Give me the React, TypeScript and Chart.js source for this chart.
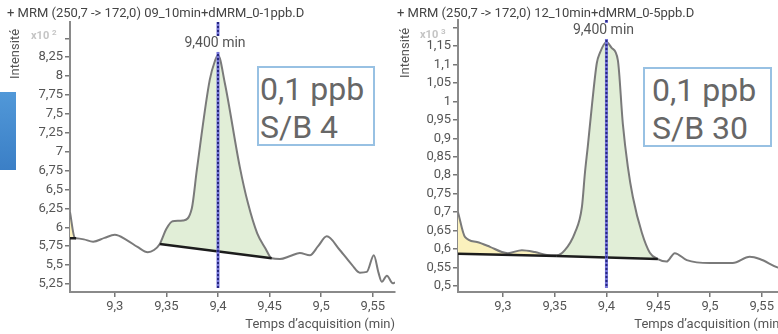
import React, { useEffect, useRef } from "react";
import { Chart, registerables } from "chart.js";
Chart.register(...registerables);

// ---------- Left panel (0,1 ppb, S/B 4) ----------
const leftTime = [
  9.2566, 9.2612, 9.2625, 9.27, 9.279, 9.29, 9.3, 9.3116, 9.322, 9.332, 9.338, 9.3436,
  9.35, 9.356, 9.366, 9.3746, 9.3795, 9.392, 9.397, 9.4, 9.4066, 9.4211, 9.429, 9.438,
  9.446, 9.452, 9.46, 9.47, 9.4793, 9.489, 9.497, 9.5054, 9.518, 9.53, 9.5374, 9.5442,
  9.551, 9.5555, 9.5587, 9.5636, 9.5694, 9.5715,
];
const leftSignal = [
  6.2, 5.86, 5.855, 5.84, 5.81, 5.86, 5.9, 5.83, 5.74, 5.67, 5.7, 5.78,
  5.98, 6.08, 6.09, 6.25, 6.76, 7.95, 8.2, 8.28, 7.91, 6.8, 6.32, 5.92,
  5.72, 5.59, 5.58, 5.62, 5.66, 5.63, 5.75, 5.88, 5.7, 5.5, 5.4, 5.41,
  5.63, 5.4, 5.28, 5.36, 5.26, 5.27,
];
const leftLeadBaseTime = [9.2566, 9.2625];
const leftLeadBaseValue = [5.855, 5.855];
const leftPeakBaseTime = [9.3436, 9.452];
const leftPeakBaseValue = [5.78, 5.59];
const leftYTicks = [5.25, 5.5, 5.75, 6, 6.25, 6.5, 6.75, 7, 7.25, 7.5, 7.75, 8, 8.25, 8.5];
const leftYLabels = ["5,25", "5,5", "5,75", "6", "6,25", "6,5", "6,75", "7", "7,25", "7,5", "7,75", "8", "8,25", ""];

// ---------- Right panel (0,1 ppb, S/B 30) ----------
const rightTime = [
  9.2566, 9.2633, 9.2749, 9.2875, 9.299, 9.3048, 9.3183, 9.3309, 9.3425, 9.3521, 9.3598,
  9.3695, 9.3763, 9.3792, 9.382, 9.386, 9.3907, 9.3936, 9.4, 9.405, 9.411, 9.4158, 9.4207,
  9.4255, 9.4342, 9.4419, 9.4496, 9.458, 9.466, 9.4776, 9.4998, 9.522, 9.5384, 9.5481,
  9.5645, 9.5715,
];
const rightSignal = [
  0.7, 0.633, 0.619, 0.606, 0.592, 0.589, 0.597, 0.592, 0.584, 0.583, 0.597,
  0.644, 0.714, 0.806, 0.879, 0.99, 1.104, 1.131, 1.161, 1.145, 1.112, 0.94, 0.822,
  0.741, 0.644, 0.59, 0.573, 0.566, 0.589, 0.57, 0.562, 0.562, 0.579, 0.573,
  0.551, 0.545,
];
const rightLeadBaseTime = [9.2566, 9.3521];
const rightLeadBaseValue = [0.587, 0.581];
const rightPeakBaseTime = [9.3521, 9.4496];
const rightPeakBaseValue = [0.581, 0.573];
const rightYTicks = [0.5, 0.55, 0.6, 0.65, 0.7, 0.75, 0.8, 0.85, 0.9, 0.95, 1, 1.05, 1.1, 1.15, 1.2];
const rightYLabels = ["0,5", "0,55", "0,6", "0,65", "0,7", "0,75", "0,8", "0,85", "0,9", "0,95", "1", "1,05", "1,1", "1,15", ""];

// ---------- Shared ----------
const xTicks = [9.3, 9.35, 9.4, 9.45, 9.5, 9.55];
const xLabels = ["9,3", "9,35", "9,4", "9,45", "9,5", "9,55"];
const retentionTime = 9.4;
const retentionLabel = "9,400 min";
const xTitle = "Temps d’acquisition (min)";

const GREEN = "#e1eed7";
const YELLOW = "#fbf1bd";
const FONT = "Roboto";

const markerPlugin = {
  id: "marker",
  afterDatasetsDraw(chart: any, _args: any, opts: any) {
    const { ctx, chartArea, scales } = chart;
    const x = scales.x.getPixelForValue(opts.time);
    ctx.save();
    ctx.beginPath();
    ctx.moveTo(x, chartArea.top);
    ctx.lineTo(x, chartArea.bottom - 4);
    ctx.strokeStyle = "#7474d8";
    ctx.lineWidth = 3;
    ctx.stroke();
    ctx.setLineDash([2, 2]);
    ctx.strokeStyle = "#262680";
    ctx.lineWidth = 2;
    ctx.stroke();
    ctx.setLineDash([]);
    const py = scales.y.getPixelForValue(opts.peak) - 11;
    ctx.font = `14px ${FONT}`;
    const w = ctx.measureText(opts.label).width;
    const cx = x - 3;
    ctx.fillStyle = "#ffffff";
    ctx.fillRect(cx - w / 2 - 2, py - 8, w + 4, 16);
    ctx.fillStyle = "#555555";
    ctx.textAlign = "center";
    ctx.textBaseline = "middle";
    ctx.fillText(opts.label, cx, py);
    ctx.restore();
  },
};

type Region = { baseT: number[]; baseV: number[]; color: string };
type Panel = {
  time: number[];
  signal: number[];
  regions: Region[];
  yMin: number;
  yMax: number;
  yTicks: number[];
  yLabels: string[];
  xMin: number;
  xMax: number;
  axisWidth: number;
  padTop: number;
  padRight: number;
};

function makeChart(canvas: HTMLCanvasElement, p: Panel) {
  const pts = p.time.map((t, i) => ({ x: t, y: p.signal[i] }));
  const seg = (a: number, b: number) => pts.filter((q) => q.x >= a - 1e-9 && q.x <= b + 1e-9);
  const datasets: any[] = [
    {
      data: pts,
      borderColor: "#7a7a7a",
      borderWidth: 2,
      pointRadius: 0,
      fill: false,
      order: 1,
      cubicInterpolationMode: "monotone",
    },
  ];
  p.regions.forEach((r) => {
    const baseIndex = datasets.length + 1;
    datasets.push({
      data: seg(r.baseT[0], r.baseT[1]),
      borderColor: "rgba(0,0,0,0)",
      borderWidth: 0,
      pointRadius: 0,
      backgroundColor: r.color,
      fill: { target: baseIndex },
      order: 5,
      cubicInterpolationMode: "monotone",
    });
    datasets.push({
      data: r.baseT.map((t, i) => ({ x: t, y: r.baseV[i] })),
      borderColor: "#1c1c1c",
      borderWidth: 2.5,
      pointRadius: 0,
      fill: false,
      order: 0,
    });
  });
  const peak = Math.max(...p.signal);
  const tickFont = { family: FONT, size: 13 };
  return new Chart(canvas, {
    type: "line",
    data: { datasets },
    plugins: [markerPlugin as any],
    options: {
      animation: false,
      responsive: false,
      maintainAspectRatio: false,
      layout: { padding: { left: 0, top: p.padTop, right: p.padRight, bottom: 0 } },
      plugins: {
        legend: { display: false },
        tooltip: { enabled: false },
        marker: { time: retentionTime, peak, label: retentionLabel },
      } as any,
      scales: {
        x: {
          type: "linear",
          min: p.xMin,
          max: p.xMax,
          afterFit: (s: any) => {
            s.height = 42;
          },
          afterBuildTicks: (s: any) => {
            s.ticks = xTicks.map((v) => ({ value: v }));
          },
          ticks: {
            callback: (_v: any, i: number) => xLabels[i],
            font: tickFont,
            color: "#555",
            padding: 2,
            maxRotation: 0,
            autoSkip: false,
          },
          grid: { drawOnChartArea: false, drawTicks: true, tickLength: 5, color: "#777", lineWidth: 1.5 },
          border: { display: true, color: "#8a8a8a", width: 2 },
          title: {
            display: true,
            text: xTitle,
            align: "end",
            font: { family: FONT, size: 13 },
            color: "#555",
            padding: { top: 0, bottom: 1 },
          },
        },
        y: {
          type: "linear",
          min: p.yMin,
          max: p.yMax,
          afterFit: (s: any) => {
            s.width = p.axisWidth;
          },
          afterBuildTicks: (s: any) => {
            s.ticks = p.yTicks.map((v) => ({ value: v }));
          },
          ticks: {
            callback: (_v: any, i: number) => p.yLabels[i],
            font: tickFont,
            color: "#555",
            padding: 2,
            autoSkip: false,
          },
          grid: { drawOnChartArea: false, drawTicks: true, tickLength: 5, color: "#777", lineWidth: 1.5 },
          border: { display: true, color: "#8a8a8a", width: 2 },
        },
      } as any,
    },
  });
}

const leftPanel: Panel = {
  time: leftTime,
  signal: leftSignal,
  regions: [
    { baseT: leftLeadBaseTime, baseV: leftLeadBaseValue, color: YELLOW },
    { baseT: leftPeakBaseTime, baseV: leftPeakBaseValue, color: GREEN },
  ],
  yMin: 5.144,
  yMax: 8.716,
  yTicks: leftYTicks,
  yLabels: leftYLabels,
  xMin: 9.2566,
  xMax: 9.5715,
  axisWidth: 70,
  padTop: 22,
  padRight: 5,
};

const rightPanel: Panel = {
  time: rightTime,
  signal: rightSignal,
  regions: [
    { baseT: rightLeadBaseTime, baseV: rightLeadBaseValue, color: YELLOW },
    { baseT: rightPeakBaseTime, baseV: rightPeakBaseValue, color: GREEN },
  ],
  yMin: 0.4837,
  yMax: 1.2205,
  yTicks: rightYTicks,
  yLabels: rightYLabels,
  xMin: 9.2566,
  xMax: 9.5715,
  axisWidth: 68,
  padTop: 20,
  padRight: 6,
};

const abs = (s: React.CSSProperties): React.CSSProperties => ({ position: "absolute", ...s });

function Multiplier({ left, top, exp }: { left: number; top: number; exp: string }) {
  return (
    <div style={abs({ left, top, fontSize: 11, fontWeight: 700, color: "#c4c4c4", lineHeight: "14px", whiteSpace: "nowrap" })}>
      x10 <sup style={{ fontSize: 8, verticalAlign: "4px" }}>{exp}</sup>
    </div>
  );
}

function YTitle({ cx, cy }: { cx: number; cy: number }) {
  return (
    <div
      style={abs({
        left: cx - 40,
        top: cy - 8,
        width: 80,
        height: 16,
        lineHeight: "16px",
        fontSize: 13,
        color: "#555",
        textAlign: "center",
        transform: "rotate(-90deg)",
        whiteSpace: "nowrap",
      })}
    >
      Intensité
    </div>
  );
}

function InfoBox({ left, top, width, padLeft, lines }: { left: number; top: number; width: number; padLeft: number; lines: string[] }) {
  return (
    <div
      style={abs({
        left,
        top,
        width,
        height: 80,
        boxSizing: "border-box",
        border: "2px solid #98c1e3",
        background: "#fff",
        paddingTop: 2,
        paddingLeft: padLeft,
        fontSize: 32,
        lineHeight: "38px",
        color: "#676767",
        whiteSpace: "nowrap",
      })}
    >
      {lines.map((l, i) => (
        <div key={i}>{l}</div>
      ))}
    </div>
  );
}

export default function App() {
  const leftRef = useRef<HTMLCanvasElement>(null);
  const rightRef = useRef<HTMLCanvasElement>(null);
  useEffect(() => {
    const a = makeChart(leftRef.current!, leftPanel);
    const b = makeChart(rightRef.current!, rightPanel);
    return () => {
      a.destroy();
      b.destroy();
    };
  }, []);
  return (
    <div
      style={abs({
        left: 0,
        top: 0,
        width: 778,
        height: 334,
        overflow: "hidden",
        background: "#fff",
        fontFamily: FONT,
      })}
    >
      <div style={abs({ left: 0, top: 92, width: 16, height: 78, background: "linear-gradient(#5198d8, #3b7fc6)" })} />
      <canvas ref={leftRef} width={400} height={334} style={abs({ left: 0, top: 0 })} />
      <canvas ref={rightRef} width={400} height={334} style={abs({ left: 390, top: 0 })} />
      <div style={abs({ left: 7, top: 5, fontSize: 13, lineHeight: "16px", color: "#444", whiteSpace: "nowrap" })}>
        + MRM (250,7 -&gt; 172,0) 09_10min+dMRM_0-1ppb.D
      </div>
      <div style={abs({ left: 397, top: 5, fontSize: 13, lineHeight: "16px", color: "#444", whiteSpace: "nowrap" })}>
        + MRM (250,7 -&gt; 172,0) 12_10min+dMRM_0-5ppb.D
      </div>
      <YTitle cx={15} cy={54} />
      <YTitle cx={405} cy={53} />
      <Multiplier left={31} top={26} exp="2" />
      <Multiplier left={420} top={25} exp="3" />
      <InfoBox left={257} top={66} width={118} padLeft={1} lines={["0,1 ppb", "S/B 4"]} />
      <InfoBox left={643} top={67} width={129} padLeft={7} lines={["0,1 ppb", "S/B 30"]} />
    </div>
  );
}
